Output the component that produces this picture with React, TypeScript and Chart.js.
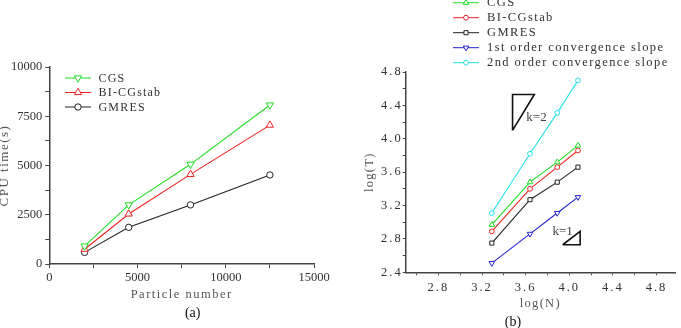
import React, { useEffect, useRef } from 'react';
import { Chart, registerables } from 'chart.js';
import { drawPoint } from 'chart.js/helpers';

Chart.register(...registerables);

// (a) CPU time against particle number
const particleCounts = [2000, 4500, 8000, 12500];
const cgsTime = [910, 3000, 5060, 8070];
const bicgstabTime = [750, 2540, 4550, 7050];
const gmresTime = [590, 1860, 3000, 4520];

// (b) the same runs on log-log axes, with reference slopes
const logN = [3.29, 3.64, 3.89, 4.08];
const logCgs = [2.97, 3.48, 3.72, 3.92];
const logBicgstab = [2.89, 3.40, 3.66, 3.86];
const logGmres = [2.75, 3.27, 3.48, 3.66];
const logFirstOrder = [2.51, 2.86, 3.11, 3.30];
const logSecondOrder = [3.11, 3.82, 4.31, 4.70];

// slope marker triangles (k=2 and k=1), in axis units
const slopeTwoX = [3.48, 3.48, 3.68, 3.48];
const slopeTwoY = [4.10, 4.53, 4.53, 4.10];
const slopeOneX = [3.94, 4.10, 4.10, 3.94];
const slopeOneY = [2.73, 2.73, 2.89, 2.73];
const slopeLabels = [
  { text: 'k=2', x: 3.70, y: 4.25 },
  { text: 'k=1', x: 3.94, y: 2.885 },
];

const GREEN = '#22dd22';
const RED = '#ee2222';
const BLACK = '#222222';
const BLUE = '#2222cc';
const CYAN = '#22e2ec';
const AXIS = '#444444';
const TEXT = '#333333';

const SERIF = 'Liberation Serif';

const pts = (xs: number[], ys: number[]) => xs.map((x, i) => ({ x, y: ys[i] }));

const isMultiple = (v: number, step: number) =>
  Math.abs(v / step - Math.round(v / step)) < 1e-6;

// Wide letter spacing for titles, separate spacing for tick labels (drawn after datasets, z = 1)
const letterSpacing = {
  id: 'letterSpacing',
  beforeDraw(chart: any, _args: any, opts: any) {
    (chart.ctx as any).letterSpacing = `${opts.text ?? 0}px`;
  },
  afterDatasetsDraw(chart: any, _args: any, opts: any) {
    (chart.ctx as any).letterSpacing = `${opts.ticks ?? 0}px`;
  },
};

// Line-with-marker legend drawn at a fixed place on the canvas
const seriesLegend = {
  id: 'seriesLegend',
  afterDraw(chart: any, _args: any, opts: any) {
    const ctx = chart.ctx as CanvasRenderingContext2D;
    ctx.save();
    (ctx as any).letterSpacing = `${opts.spacingPx ?? 0}px`;
    const items = chart.data.datasets.filter((d: any) => d.label);
    items.forEach((ds: any, i: number) => {
      const cy = opts.y + i * opts.spacing;
      const x0 = opts.x;
      ctx.strokeStyle = ds.borderColor;
      ctx.lineWidth = 1;
      ctx.beginPath();
      ctx.moveTo(x0, cy);
      ctx.lineTo(x0 + opts.lineLen, cy);
      ctx.stroke();
      ctx.fillStyle = '#ffffff';
      drawPoint(
        ctx,
        {
          pointStyle: ds.pointStyle,
          rotation: ds.pointRotation || 0,
          radius: ds.pointRadius,
          borderWidth: 1,
        } as any,
        x0 + opts.lineLen / 2,
        cy
      );
      ctx.fillStyle = TEXT;
      ctx.font = opts.font;
      ctx.textAlign = 'left';
      ctx.textBaseline = 'middle';
      ctx.fillText(ds.label, x0 + opts.lineLen + opts.gap, cy + 0.5);
    });
    ctx.restore();
  },
};

// Text beside the slope triangles, placed through the scales
const slopeText = {
  id: 'slopeText',
  afterDraw(chart: any, _args: any, opts: any) {
    if (!opts || !opts.items) return;
    const ctx = chart.ctx as CanvasRenderingContext2D;
    const xs = chart.scales.x;
    const ys = chart.scales.y;
    ctx.save();
    (ctx as any).letterSpacing = '0px';
    ctx.fillStyle = '#444';
    ctx.font = `13px "${SERIF}"`;
    ctx.textAlign = 'center';
    ctx.textBaseline = 'middle';
    opts.items.forEach((it: any) => {
      ctx.fillText(it.text, xs.getPixelForValue(it.x), ys.getPixelForValue(it.y));
    });
    ctx.restore();
  },
};

const series = (
  label: string,
  data: { x: number; y: number }[],
  color: string,
  pointStyle: string,
  radius: number,
  rotation = 0
) => ({
  label,
  data,
  borderColor: color,
  backgroundColor: color,
  borderWidth: 1.1,
  pointStyle,
  pointRotation: rotation,
  pointRadius: radius,
  pointBorderWidth: 1,
  pointBorderColor: color,
  pointBackgroundColor: '#ffffff',
  tension: 0,
  clip: false as any,
});

const outline = (data: { x: number; y: number }[]) => ({
  data,
  borderColor: '#111111',
  borderWidth: 1.6,
  pointRadius: 0,
  tension: 0,
  clip: false as any,
});

function leftConfig(): any {
  return {
    type: 'line',
    data: {
      datasets: [
        series('CGS', pts(particleCounts, cgsTime), GREEN, 'triangle', 4.2, 180),
        series('BI-CGstab', pts(particleCounts, bicgstabTime), RED, 'triangle', 4.2),
        series('GMRES', pts(particleCounts, gmresTime), BLACK, 'circle', 3.2),
      ],
    },
    options: {
      responsive: false,
      animation: false,
      events: [],
      layout: { padding: { top: 67, right: 26, bottom: 26, left: 0 } },
      plugins: {
        legend: { display: false },
        tooltip: { enabled: false },
        letterSpacing: { text: 1.5, ticks: 0 },
        seriesLegend: {
          x: 65,
          y: 78,
          spacing: 14.5,
          lineLen: 26,
          gap: 7.5,
          spacingPx: 1.2,
          font: `12px "${SERIF}"`,
        },
      },
      scales: {
        x: {
          type: 'linear',
          min: 0,
          max: 15000,
          ticks: {
            stepSize: 2500,
            autoSkip: false,
            maxRotation: 0,
            padding: 2,
            z: 1,
            color: TEXT,
            font: { family: SERIF, size: 12.5 },
            callback: (v: number) => (isMultiple(v, 5000) ? String(v) : ''),
          },
          grid: { drawOnChartArea: false, drawTicks: true, tickLength: 4, color: AXIS },
          border: { display: true, color: AXIS, width: 1.5 },
          title: {
            display: true,
            text: 'Particle number',
            color: '#555',
            font: { family: SERIF, size: 12.5 },
            padding: 0,
          },
          afterFit: (s: any) => {
            s.height = 38;
          },
        },
        y: {
          type: 'linear',
          min: 0,
          max: 10000,
          ticks: {
            stepSize: 1250,
            autoSkip: false,
            padding: 3,
            z: 1,
            color: TEXT,
            font: { family: SERIF, size: 12.5 },
            callback: (v: number) => (isMultiple(v, 2500) ? String(v) : ''),
          },
          grid: { drawOnChartArea: false, drawTicks: true, tickLength: 4, color: AXIS },
          border: { display: true, color: AXIS, width: 1.5 },
          title: {
            display: true,
            text: 'CPU time(s)',
            color: '#555',
            font: { family: SERIF, size: 13 },
            padding: { top: -3, bottom: 0 },
          },
          afterFit: (s: any) => {
            s.width = 49.3;
          },
        },
      },
    },
    plugins: [letterSpacing, seriesLegend],
  };
}

function rightConfig(): any {
  return {
    type: 'line',
    data: {
      datasets: [
        series('CGS', pts(logN, logCgs), GREEN, 'triangle', 3.2),
        series('BI-CGstab', pts(logN, logBicgstab), RED, 'circle', 2.4),
        series('GMRES', pts(logN, logGmres), BLACK, 'rect', 2.9),
        series('1st order convergence slope', pts(logN, logFirstOrder), BLUE, 'triangle', 3.2, 180),
        series('2nd order convergence slope', pts(logN, logSecondOrder), CYAN, 'circle', 2.4),
        outline(pts(slopeTwoX, slopeTwoY)),
        outline(pts(slopeOneX, slopeOneY)),
      ],
    },
    options: {
      responsive: false,
      animation: false,
      events: [],
      layout: { padding: { top: 72, right: 6, bottom: 17, left: 22 } },
      plugins: {
        legend: { display: false },
        tooltip: { enabled: false },
        letterSpacing: { text: 1.3, ticks: 2 },
        seriesLegend: {
          x: 113,
          y: 2.7,
          spacing: 15,
          lineLen: 26,
          gap: 8,
          spacingPx: 1.4,
          font: `12.5px "${SERIF}"`,
        },
        slopeText: { items: slopeLabels },
      },
      scales: {
        x: {
          type: 'linear',
          min: 2.5,
          max: 4.97,
          ticks: {
            stepSize: 0.2,
            includeBounds: false,
            autoSkip: false,
            maxRotation: 0,
            padding: 5,
            z: 1,
            color: TEXT,
            font: { family: SERIF, size: 12.5 },
            callback: (v: number) => (isMultiple(v, 0.4) ? v.toFixed(1) : ''),
          },
          grid: { drawOnChartArea: false, drawTicks: true, tickLength: 3, color: AXIS },
          border: { display: true, color: AXIS, width: 1.5 },
          title: {
            display: true,
            text: 'log(N)',
            color: '#555',
            font: { family: SERIF, size: 12.5 },
            padding: 0,
          },
          afterFit: (s: any) => {
            s.height = 38.7;
          },
        },
        y: {
          type: 'linear',
          min: 2.4,
          max: 4.8,
          ticks: {
            stepSize: 0.2,
            autoSkip: false,
            padding: 0,
            z: 1,
            color: TEXT,
            font: { family: SERIF, size: 12.5 },
            callback: (v: number) => (isMultiple(v, 0.4) ? v.toFixed(1) : ''),
          },
          grid: { drawOnChartArea: false, drawTicks: true, tickLength: 3, color: AXIS },
          border: { display: true, color: AXIS, width: 1.5 },
          title: {
            display: true,
            text: 'log(T)',
            color: '#555',
            font: { family: SERIF, size: 12.5 },
            padding: 0,
          },
          afterFit: (s: any) => {
            s.width = 43.7;
          },
        },
      },
    },
    plugins: [letterSpacing, seriesLegend, slopeText],
  };
}

const captionStyle = (cx: number, cy: number): React.CSSProperties => ({
  position: 'absolute',
  left: cx - 20,
  top: cy - 9,
  width: 40,
  height: 18,
  lineHeight: '18px',
  textAlign: 'center',
  fontFamily: SERIF,
  fontSize: 14,
  color: '#111',
});

export default function App() {
  const leftRef = useRef<HTMLCanvasElement>(null);
  const rightRef = useRef<HTMLCanvasElement>(null);

  useEffect(() => {
    const a = new Chart(leftRef.current as HTMLCanvasElement, leftConfig());
    const b = new Chart(rightRef.current as HTMLCanvasElement, rightConfig());
    return () => {
      a.destroy();
      b.destroy();
    };
  }, []);

  return (
    <div
      style={{
        position: 'fixed',
        left: 0,
        top: 0,
        width: 681,
        height: 328,
        background: '#ffffff',
        overflow: 'hidden',
      }}
    >
      <canvas
        ref={leftRef}
        width={340}
        height={328}
        style={{ position: 'absolute', left: 0, top: 0, width: 340, height: 328 }}
      />
      <canvas
        ref={rightRef}
        width={341}
        height={328}
        style={{ position: 'absolute', left: 340, top: 0, width: 341, height: 328 }}
      />
      <div style={captionStyle(192.7, 313)}>(a)</div>
      <div style={captionStyle(513, 321.5)}>(b)</div>
    </div>
  );
}
